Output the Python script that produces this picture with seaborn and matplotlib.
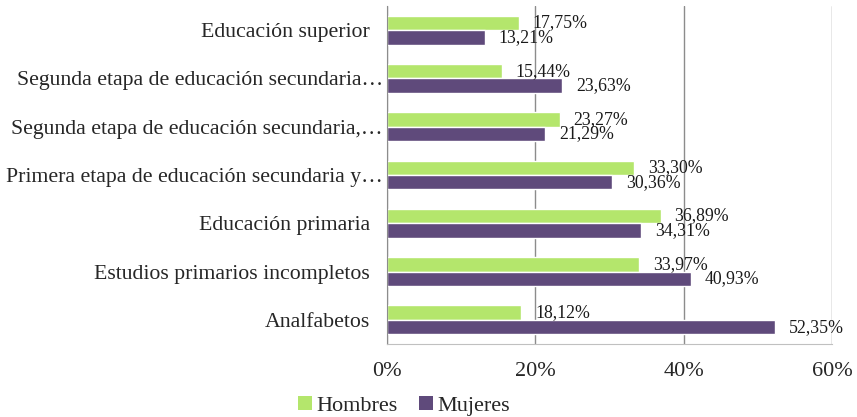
import matplotlib
matplotlib.use("Agg")
import matplotlib.pyplot as plt
import matplotlib.transforms as mtransforms
import seaborn as sns
import pandas as pd
import numpy as np
from matplotlib.patches import Patch

categories = [
    "Educación superior",
    "Segunda etapa de educación secundaria…",
    "Segunda etapa de educación secundaria,…",
    "Primera etapa de educación secundaria y…",
    "Educación primaria",
    "Estudios primarios incompletos",
    "Analfabetos",
]
hombres = [17.75, 15.44, 23.27, 33.30, 36.89, 33.97, 18.12]
mujeres = [13.21, 23.63, 21.29, 30.36, 34.31, 40.93, 52.35]
series = ["Hombres", "Mujeres"]
xticks = [0, 20, 40, 60]
xticklabels = ["0%", "20%", "40%", "60%"]

colors = {"Hombres": "#b4e66c", "Mujeres": "#5f4a7b"}
gray = "#8c8c8c"

df = pd.DataFrame({
    "cat": categories * 2,
    "val": hombres + mujeres,
    "serie": [series[0]] * len(categories) + [series[1]] * len(categories),
})

sns.set_style("white")
plt.rcParams["font.family"] = ["Liberation Serif", "DejaVu Serif"]

fig = plt.figure(figsize=(8.57, 4.17), dpi=100)
ax = fig.add_axes([387 / 857, 1 - 344 / 417, (832 - 387) / 857, (344 - 6) / 417])

sns.barplot(data=df, x="val", y="cat", hue="serie", order=categories,
            hue_order=series, palette=colors, orient="h", width=0.6,
            saturation=1, ax=ax, legend=False)

for cont, vals in zip(ax.containers, [hombres, mujeres]):
    ax.bar_label(cont, labels=[f"{v:.2f}%".replace(".", ",") for v in vals],
                 padding=10, fontsize=12.8, color="#1a1a1a")

ax.set_xlim(0, 60)
ax.set_ylim(len(categories) - 0.5, -0.5)
ax.set_xticks(xticks)
ax.set_xticklabels(xticklabels, fontsize=16)
ax.set_yticks(range(len(categories)))
ax.set_yticklabels(categories, fontsize=15.7)
ax.set_yticks(np.arange(-0.5, len(categories)), minor=True)
ax.tick_params(axis="y", which="major", length=0, pad=3)
ax.tick_params(axis="y", which="minor", length=5, color=gray, width=1)
ax.tick_params(axis="x", which="major", length=5, color=gray, width=1, pad=8)
ax.set_xlabel("")
ax.set_ylabel("")
ax.xaxis.grid(True, color=gray, linewidth=1)
ax.set_axisbelow(True)
for s in ["top", "right"]:
    ax.spines[s].set_visible(False)
ax.spines["left"].set_color(gray)
ax.spines["bottom"].set_color("#c0c0c0")

# labels without ellipsis sit further from the axis, as in the reference
shift = mtransforms.ScaledTranslation(-9.5 / 72, 0, fig.dpi_scale_trans)
for lbl in ax.get_yticklabels():
    if not lbl.get_text().endswith("…"):
        lbl.set_transform(lbl.get_transform() + shift)

handles = [Patch(facecolor=colors[s], edgecolor="none") for s in series]
fig.legend(handles, series, loc="center", bbox_to_anchor=(404 / 857, 1 - 406 / 417),
           ncol=2, frameon=False, fontsize=16, handlelength=0.6, handleheight=0.6,
           handletextpad=0.2, columnspacing=1.0)

fig.savefig("out.png", dpi=100)
